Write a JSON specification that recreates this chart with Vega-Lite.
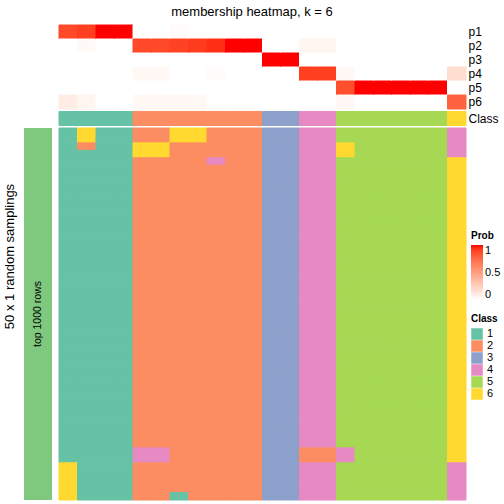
{
  "$schema": "https://vega.github.io/schema/vega-lite/v6.json",
  "background": "white",
  "padding": {"left": 3, "top": 5, "right": 0, "bottom": 0},
  "title": {"text": "membership heatmap, k = 6", "fontSize": 13, "fontWeight": "normal", "font": "Liberation Sans", "color": "black", "anchor": "middle", "offset": 6},
  "datasets": {
    "members": [
      {"c": "c01", "class": 1, "p1": 0.87, "p2": 0, "p3": 0, "p4": 0, "p5": 0, "p6": 0.1},
      {"c": "c02", "class": 1, "p1": 0.9, "p2": 0.03, "p3": 0, "p4": 0, "p5": 0, "p6": 0.05},
      {"c": "c03", "class": 1, "p1": 1, "p2": 0, "p3": 0, "p4": 0, "p5": 0, "p6": 0},
      {"c": "c04", "class": 1, "p1": 1, "p2": 0, "p3": 0, "p4": 0, "p5": 0, "p6": 0},
      {"c": "c05", "class": 2, "p1": 0, "p2": 0.87, "p3": 0, "p4": 0.04, "p5": 0, "p6": 0.04},
      {"c": "c06", "class": 2, "p1": 0, "p2": 0.87, "p3": 0, "p4": 0.04, "p5": 0, "p6": 0.04},
      {"c": "c07", "class": 2, "p1": 0.02, "p2": 0.89, "p3": 0, "p4": 0, "p5": 0, "p6": 0.04},
      {"c": "c08", "class": 2, "p1": 0, "p2": 0.91, "p3": 0, "p4": 0, "p5": 0, "p6": 0.04},
      {"c": "c09", "class": 2, "p1": 0, "p2": 0.94, "p3": 0, "p4": 0.02, "p5": 0, "p6": 0},
      {"c": "c10", "class": 2, "p1": 0, "p2": 1, "p3": 0, "p4": 0, "p5": 0, "p6": 0},
      {"c": "c11", "class": 2, "p1": 0, "p2": 1, "p3": 0, "p4": 0, "p5": 0, "p6": 0},
      {"c": "c12", "class": 3, "p1": 0, "p2": 0, "p3": 1, "p4": 0, "p5": 0, "p6": 0},
      {"c": "c13", "class": 3, "p1": 0, "p2": 0, "p3": 1, "p4": 0, "p5": 0, "p6": 0},
      {"c": "c14", "class": 4, "p1": 0, "p2": 0.05, "p3": 0, "p4": 0.9, "p5": 0, "p6": 0},
      {"c": "c15", "class": 4, "p1": 0, "p2": 0.05, "p3": 0, "p4": 0.9, "p5": 0, "p6": 0},
      {"c": "c16", "class": 5, "p1": 0, "p2": 0, "p3": 0, "p4": 0.04, "p5": 0.85, "p6": 0.04},
      {"c": "c17", "class": 5, "p1": 0, "p2": 0, "p3": 0, "p4": 0, "p5": 1, "p6": 0},
      {"c": "c18", "class": 5, "p1": 0, "p2": 0, "p3": 0, "p4": 0, "p5": 1, "p6": 0},
      {"c": "c19", "class": 5, "p1": 0, "p2": 0, "p3": 0, "p4": 0, "p5": 1, "p6": 0},
      {"c": "c20", "class": 5, "p1": 0, "p2": 0, "p3": 0, "p4": 0, "p5": 1, "p6": 0},
      {"c": "c21", "class": 5, "p1": 0, "p2": 0, "p3": 0, "p4": 0, "p5": 1, "p6": 0},
      {"c": "c22", "class": 6, "p1": 0, "p2": 0, "p3": 0, "p4": 0.18, "p5": 0, "p6": 0.78}
    ],
    "samplings": [
      {"r":1,"c01":1,"c02":6,"c03":1,"c04":1,"c05":2,"c06":2,"c07":6,"c08":6,"c09":2,"c10":2,"c11":2,"c12":3,"c13":3,"c14":4,"c15":4,"c16":5,"c17":5,"c18":5,"c19":5,"c20":5,"c21":5,"c22":4},
      {"r":2,"c01":1,"c02":6,"c03":1,"c04":1,"c05":2,"c06":2,"c07":6,"c08":6,"c09":2,"c10":2,"c11":2,"c12":3,"c13":3,"c14":4,"c15":4,"c16":5,"c17":5,"c18":5,"c19":5,"c20":5,"c21":5,"c22":4},
      {"r":3,"c01":1,"c02":2,"c03":1,"c04":1,"c05":6,"c06":6,"c07":2,"c08":2,"c09":2,"c10":2,"c11":2,"c12":3,"c13":3,"c14":4,"c15":4,"c16":6,"c17":5,"c18":5,"c19":5,"c20":5,"c21":5,"c22":4},
      {"r":4,"c01":1,"c02":1,"c03":1,"c04":1,"c05":6,"c06":6,"c07":2,"c08":2,"c09":2,"c10":2,"c11":2,"c12":3,"c13":3,"c14":4,"c15":4,"c16":6,"c17":5,"c18":5,"c19":5,"c20":5,"c21":5,"c22":4},
      {"r":5,"c01":1,"c02":1,"c03":1,"c04":1,"c05":2,"c06":2,"c07":2,"c08":2,"c09":4,"c10":2,"c11":2,"c12":3,"c13":3,"c14":4,"c15":4,"c16":5,"c17":5,"c18":5,"c19":5,"c20":5,"c21":5,"c22":6},
      {"r":6,"c01":1,"c02":1,"c03":1,"c04":1,"c05":2,"c06":2,"c07":2,"c08":2,"c09":2,"c10":2,"c11":2,"c12":3,"c13":3,"c14":4,"c15":4,"c16":5,"c17":5,"c18":5,"c19":5,"c20":5,"c21":5,"c22":6},
      {"r":7,"c01":1,"c02":1,"c03":1,"c04":1,"c05":2,"c06":2,"c07":2,"c08":2,"c09":2,"c10":2,"c11":2,"c12":3,"c13":3,"c14":4,"c15":4,"c16":5,"c17":5,"c18":5,"c19":5,"c20":5,"c21":5,"c22":6},
      {"r":8,"c01":1,"c02":1,"c03":1,"c04":1,"c05":2,"c06":2,"c07":2,"c08":2,"c09":2,"c10":2,"c11":2,"c12":3,"c13":3,"c14":4,"c15":4,"c16":5,"c17":5,"c18":5,"c19":5,"c20":5,"c21":5,"c22":6},
      {"r":9,"c01":1,"c02":1,"c03":1,"c04":1,"c05":2,"c06":2,"c07":2,"c08":2,"c09":2,"c10":2,"c11":2,"c12":3,"c13":3,"c14":4,"c15":4,"c16":5,"c17":5,"c18":5,"c19":5,"c20":5,"c21":5,"c22":6},
      {"r":10,"c01":1,"c02":1,"c03":1,"c04":1,"c05":2,"c06":2,"c07":2,"c08":2,"c09":2,"c10":2,"c11":2,"c12":3,"c13":3,"c14":4,"c15":4,"c16":5,"c17":5,"c18":5,"c19":5,"c20":5,"c21":5,"c22":6},
      {"r":11,"c01":1,"c02":1,"c03":1,"c04":1,"c05":2,"c06":2,"c07":2,"c08":2,"c09":2,"c10":2,"c11":2,"c12":3,"c13":3,"c14":4,"c15":4,"c16":5,"c17":5,"c18":5,"c19":5,"c20":5,"c21":5,"c22":6},
      {"r":12,"c01":1,"c02":1,"c03":1,"c04":1,"c05":2,"c06":2,"c07":2,"c08":2,"c09":2,"c10":2,"c11":2,"c12":3,"c13":3,"c14":4,"c15":4,"c16":5,"c17":5,"c18":5,"c19":5,"c20":5,"c21":5,"c22":6},
      {"r":13,"c01":1,"c02":1,"c03":1,"c04":1,"c05":2,"c06":2,"c07":2,"c08":2,"c09":2,"c10":2,"c11":2,"c12":3,"c13":3,"c14":4,"c15":4,"c16":5,"c17":5,"c18":5,"c19":5,"c20":5,"c21":5,"c22":6},
      {"r":14,"c01":1,"c02":1,"c03":1,"c04":1,"c05":2,"c06":2,"c07":2,"c08":2,"c09":2,"c10":2,"c11":2,"c12":3,"c13":3,"c14":4,"c15":4,"c16":5,"c17":5,"c18":5,"c19":5,"c20":5,"c21":5,"c22":6},
      {"r":15,"c01":1,"c02":1,"c03":1,"c04":1,"c05":2,"c06":2,"c07":2,"c08":2,"c09":2,"c10":2,"c11":2,"c12":3,"c13":3,"c14":4,"c15":4,"c16":5,"c17":5,"c18":5,"c19":5,"c20":5,"c21":5,"c22":6},
      {"r":16,"c01":1,"c02":1,"c03":1,"c04":1,"c05":2,"c06":2,"c07":2,"c08":2,"c09":2,"c10":2,"c11":2,"c12":3,"c13":3,"c14":4,"c15":4,"c16":5,"c17":5,"c18":5,"c19":5,"c20":5,"c21":5,"c22":6},
      {"r":17,"c01":1,"c02":1,"c03":1,"c04":1,"c05":2,"c06":2,"c07":2,"c08":2,"c09":2,"c10":2,"c11":2,"c12":3,"c13":3,"c14":4,"c15":4,"c16":5,"c17":5,"c18":5,"c19":5,"c20":5,"c21":5,"c22":6},
      {"r":18,"c01":1,"c02":1,"c03":1,"c04":1,"c05":2,"c06":2,"c07":2,"c08":2,"c09":2,"c10":2,"c11":2,"c12":3,"c13":3,"c14":4,"c15":4,"c16":5,"c17":5,"c18":5,"c19":5,"c20":5,"c21":5,"c22":6},
      {"r":19,"c01":1,"c02":1,"c03":1,"c04":1,"c05":2,"c06":2,"c07":2,"c08":2,"c09":2,"c10":2,"c11":2,"c12":3,"c13":3,"c14":4,"c15":4,"c16":5,"c17":5,"c18":5,"c19":5,"c20":5,"c21":5,"c22":6},
      {"r":20,"c01":1,"c02":1,"c03":1,"c04":1,"c05":2,"c06":2,"c07":2,"c08":2,"c09":2,"c10":2,"c11":2,"c12":3,"c13":3,"c14":4,"c15":4,"c16":5,"c17":5,"c18":5,"c19":5,"c20":5,"c21":5,"c22":6},
      {"r":21,"c01":1,"c02":1,"c03":1,"c04":1,"c05":2,"c06":2,"c07":2,"c08":2,"c09":2,"c10":2,"c11":2,"c12":3,"c13":3,"c14":4,"c15":4,"c16":5,"c17":5,"c18":5,"c19":5,"c20":5,"c21":5,"c22":6},
      {"r":22,"c01":1,"c02":1,"c03":1,"c04":1,"c05":2,"c06":2,"c07":2,"c08":2,"c09":2,"c10":2,"c11":2,"c12":3,"c13":3,"c14":4,"c15":4,"c16":5,"c17":5,"c18":5,"c19":5,"c20":5,"c21":5,"c22":6},
      {"r":23,"c01":1,"c02":1,"c03":1,"c04":1,"c05":2,"c06":2,"c07":2,"c08":2,"c09":2,"c10":2,"c11":2,"c12":3,"c13":3,"c14":4,"c15":4,"c16":5,"c17":5,"c18":5,"c19":5,"c20":5,"c21":5,"c22":6},
      {"r":24,"c01":1,"c02":1,"c03":1,"c04":1,"c05":2,"c06":2,"c07":2,"c08":2,"c09":2,"c10":2,"c11":2,"c12":3,"c13":3,"c14":4,"c15":4,"c16":5,"c17":5,"c18":5,"c19":5,"c20":5,"c21":5,"c22":6},
      {"r":25,"c01":1,"c02":1,"c03":1,"c04":1,"c05":2,"c06":2,"c07":2,"c08":2,"c09":2,"c10":2,"c11":2,"c12":3,"c13":3,"c14":4,"c15":4,"c16":5,"c17":5,"c18":5,"c19":5,"c20":5,"c21":5,"c22":6},
      {"r":26,"c01":1,"c02":1,"c03":1,"c04":1,"c05":2,"c06":2,"c07":2,"c08":2,"c09":2,"c10":2,"c11":2,"c12":3,"c13":3,"c14":4,"c15":4,"c16":5,"c17":5,"c18":5,"c19":5,"c20":5,"c21":5,"c22":6},
      {"r":27,"c01":1,"c02":1,"c03":1,"c04":1,"c05":2,"c06":2,"c07":2,"c08":2,"c09":2,"c10":2,"c11":2,"c12":3,"c13":3,"c14":4,"c15":4,"c16":5,"c17":5,"c18":5,"c19":5,"c20":5,"c21":5,"c22":6},
      {"r":28,"c01":1,"c02":1,"c03":1,"c04":1,"c05":2,"c06":2,"c07":2,"c08":2,"c09":2,"c10":2,"c11":2,"c12":3,"c13":3,"c14":4,"c15":4,"c16":5,"c17":5,"c18":5,"c19":5,"c20":5,"c21":5,"c22":6},
      {"r":29,"c01":1,"c02":1,"c03":1,"c04":1,"c05":2,"c06":2,"c07":2,"c08":2,"c09":2,"c10":2,"c11":2,"c12":3,"c13":3,"c14":4,"c15":4,"c16":5,"c17":5,"c18":5,"c19":5,"c20":5,"c21":5,"c22":6},
      {"r":30,"c01":1,"c02":1,"c03":1,"c04":1,"c05":2,"c06":2,"c07":2,"c08":2,"c09":2,"c10":2,"c11":2,"c12":3,"c13":3,"c14":4,"c15":4,"c16":5,"c17":5,"c18":5,"c19":5,"c20":5,"c21":5,"c22":6},
      {"r":31,"c01":1,"c02":1,"c03":1,"c04":1,"c05":2,"c06":2,"c07":2,"c08":2,"c09":2,"c10":2,"c11":2,"c12":3,"c13":3,"c14":4,"c15":4,"c16":5,"c17":5,"c18":5,"c19":5,"c20":5,"c21":5,"c22":6},
      {"r":32,"c01":1,"c02":1,"c03":1,"c04":1,"c05":2,"c06":2,"c07":2,"c08":2,"c09":2,"c10":2,"c11":2,"c12":3,"c13":3,"c14":4,"c15":4,"c16":5,"c17":5,"c18":5,"c19":5,"c20":5,"c21":5,"c22":6},
      {"r":33,"c01":1,"c02":1,"c03":1,"c04":1,"c05":2,"c06":2,"c07":2,"c08":2,"c09":2,"c10":2,"c11":2,"c12":3,"c13":3,"c14":4,"c15":4,"c16":5,"c17":5,"c18":5,"c19":5,"c20":5,"c21":5,"c22":6},
      {"r":34,"c01":1,"c02":1,"c03":1,"c04":1,"c05":2,"c06":2,"c07":2,"c08":2,"c09":2,"c10":2,"c11":2,"c12":3,"c13":3,"c14":4,"c15":4,"c16":5,"c17":5,"c18":5,"c19":5,"c20":5,"c21":5,"c22":6},
      {"r":35,"c01":1,"c02":1,"c03":1,"c04":1,"c05":2,"c06":2,"c07":2,"c08":2,"c09":2,"c10":2,"c11":2,"c12":3,"c13":3,"c14":4,"c15":4,"c16":5,"c17":5,"c18":5,"c19":5,"c20":5,"c21":5,"c22":6},
      {"r":36,"c01":1,"c02":1,"c03":1,"c04":1,"c05":2,"c06":2,"c07":2,"c08":2,"c09":2,"c10":2,"c11":2,"c12":3,"c13":3,"c14":4,"c15":4,"c16":5,"c17":5,"c18":5,"c19":5,"c20":5,"c21":5,"c22":6},
      {"r":37,"c01":1,"c02":1,"c03":1,"c04":1,"c05":2,"c06":2,"c07":2,"c08":2,"c09":2,"c10":2,"c11":2,"c12":3,"c13":3,"c14":4,"c15":4,"c16":5,"c17":5,"c18":5,"c19":5,"c20":5,"c21":5,"c22":6},
      {"r":38,"c01":1,"c02":1,"c03":1,"c04":1,"c05":2,"c06":2,"c07":2,"c08":2,"c09":2,"c10":2,"c11":2,"c12":3,"c13":3,"c14":4,"c15":4,"c16":5,"c17":5,"c18":5,"c19":5,"c20":5,"c21":5,"c22":6},
      {"r":39,"c01":1,"c02":1,"c03":1,"c04":1,"c05":2,"c06":2,"c07":2,"c08":2,"c09":2,"c10":2,"c11":2,"c12":3,"c13":3,"c14":4,"c15":4,"c16":5,"c17":5,"c18":5,"c19":5,"c20":5,"c21":5,"c22":6},
      {"r":40,"c01":1,"c02":1,"c03":1,"c04":1,"c05":2,"c06":2,"c07":2,"c08":2,"c09":2,"c10":2,"c11":2,"c12":3,"c13":3,"c14":4,"c15":4,"c16":5,"c17":5,"c18":5,"c19":5,"c20":5,"c21":5,"c22":6},
      {"r":41,"c01":1,"c02":1,"c03":1,"c04":1,"c05":2,"c06":2,"c07":2,"c08":2,"c09":2,"c10":2,"c11":2,"c12":3,"c13":3,"c14":4,"c15":4,"c16":5,"c17":5,"c18":5,"c19":5,"c20":5,"c21":5,"c22":6},
      {"r":42,"c01":1,"c02":1,"c03":1,"c04":1,"c05":2,"c06":2,"c07":2,"c08":2,"c09":2,"c10":2,"c11":2,"c12":3,"c13":3,"c14":4,"c15":4,"c16":5,"c17":5,"c18":5,"c19":5,"c20":5,"c21":5,"c22":6},
      {"r":43,"c01":1,"c02":1,"c03":1,"c04":1,"c05":2,"c06":2,"c07":2,"c08":2,"c09":2,"c10":2,"c11":2,"c12":3,"c13":3,"c14":4,"c15":4,"c16":5,"c17":5,"c18":5,"c19":5,"c20":5,"c21":5,"c22":6},
      {"r":44,"c01":1,"c02":1,"c03":1,"c04":1,"c05":4,"c06":4,"c07":2,"c08":2,"c09":2,"c10":2,"c11":2,"c12":3,"c13":3,"c14":2,"c15":2,"c16":4,"c17":5,"c18":5,"c19":5,"c20":5,"c21":5,"c22":6},
      {"r":45,"c01":1,"c02":1,"c03":1,"c04":1,"c05":4,"c06":4,"c07":2,"c08":2,"c09":2,"c10":2,"c11":2,"c12":3,"c13":3,"c14":2,"c15":2,"c16":4,"c17":5,"c18":5,"c19":5,"c20":5,"c21":5,"c22":6},
      {"r":46,"c01":6,"c02":1,"c03":1,"c04":1,"c05":2,"c06":2,"c07":2,"c08":2,"c09":2,"c10":2,"c11":2,"c12":3,"c13":3,"c14":4,"c15":4,"c16":5,"c17":5,"c18":5,"c19":5,"c20":5,"c21":5,"c22":4},
      {"r":47,"c01":6,"c02":1,"c03":1,"c04":1,"c05":2,"c06":2,"c07":2,"c08":2,"c09":2,"c10":2,"c11":2,"c12":3,"c13":3,"c14":4,"c15":4,"c16":5,"c17":5,"c18":5,"c19":5,"c20":5,"c21":5,"c22":4},
      {"r":48,"c01":6,"c02":1,"c03":1,"c04":1,"c05":2,"c06":2,"c07":2,"c08":2,"c09":2,"c10":2,"c11":2,"c12":3,"c13":3,"c14":4,"c15":4,"c16":5,"c17":5,"c18":5,"c19":5,"c20":5,"c21":5,"c22":4},
      {"r":49,"c01":6,"c02":1,"c03":1,"c04":1,"c05":2,"c06":2,"c07":2,"c08":2,"c09":2,"c10":2,"c11":2,"c12":3,"c13":3,"c14":4,"c15":4,"c16":5,"c17":5,"c18":5,"c19":5,"c20":5,"c21":5,"c22":4},
      {"r":50,"c01":6,"c02":1,"c03":1,"c04":1,"c05":2,"c06":2,"c07":1,"c08":2,"c09":2,"c10":2,"c11":2,"c12":3,"c13":3,"c14":4,"c15":4,"c16":5,"c17":5,"c18":5,"c19":5,"c20":5,"c21":5,"c22":4}
    ]
  },
  "spacing": 6,
  "resolve": {"scale": {"stroke": "independent"}},
  "hconcat": [
    {
      "spacing": 3,
      "bounds": "flush",
      "vconcat": [
        {"width": 28, "height": 100, "data": {"values": [{}]}, "mark": {"type": "rect", "opacity": 0}},
        {
          "width": 28,
          "height": 372,
          "data": {"values": [{"label": "top 1000 rows"}]},
          "encoding": {
            "x": {"field": "label", "type": "nominal", "axis": null, "scale": {"paddingInner": 0, "paddingOuter": 0}},
            "y": {"field": "label", "type": "nominal", "scale": {"paddingInner": 0, "paddingOuter": 0},
                  "axis": {"labels": false, "ticks": false, "domain": false, "title": "50 x 1 random samplings", "titleFontSize": 13, "titleFontWeight": "normal", "titleColor": "black", "titlePadding": 8, "titleY": 128}}
          },
          "layer": [
            {"mark": {"type": "rect", "color": "#7FC97F"}},
            {"mark": {"type": "text", "angle": 270, "fontSize": 10.5, "color": "black"}, "encoding": {"text": {"field": "label"}}}
          ]
        }
      ]
    },
    {
      "spacing": 2.5,
      "bounds": "flush",
      "resolve": {"scale": {"stroke": "independent"}},
      "vconcat": [
        {
          "width": 407,
          "height": 84,
          "data": {"name": "members"},
          "transform": [{"fold": ["p1", "p2", "p3", "p4", "p5", "p6"], "as": ["cluster", "prob"]}],
          "mark": {"type": "rect", "strokeWidth": 1},
          "encoding": {
            "x": {"field": "c", "type": "nominal", "axis": null, "scale": {"paddingInner": 0, "paddingOuter": 0}},
            "y": {"field": "cluster", "type": "nominal", "scale": {"paddingInner": 0, "paddingOuter": 0},
                  "axis": {"orient": "right", "title": null, "ticks": false, "domain": false, "labelFontSize": 12, "labelPadding": 2, "labelColor": "black"}},
            "fill": {"field": "prob", "type": "quantitative",
                     "scale": {"domain": [0, 1], "range": ["#ffffff", "#ff0000"], "interpolate": "lab"},
                     "legend": {"title": "Prob", "orient": "none", "legendX": 447, "legendY": 206, "direction": "vertical", "gradientLength": 55, "gradientThickness": 12, "values": [0, 0.5, 1], "format": "~g", "titleFontSize": 10, "titleFontWeight": "bold", "titleColor": "black", "labelFontSize": 11, "labelColor": "black", "gradientStrokeWidth": 0, "titlePadding": 4}},
            "stroke": {"field": "prob", "type": "quantitative", "legend": null,
                       "scale": {"domain": [0, 1], "range": ["#ffffff", "#ff0000"], "interpolate": "lab"}}
          }
        },
        {
          "width": 407,
          "height": 14,
          "data": {"name": "members"},
          "mark": {"type": "rect", "strokeWidth": 1},
          "encoding": {
            "x": {"field": "c", "type": "nominal", "axis": null, "scale": {"paddingInner": 0, "paddingOuter": 0}},
            "y": {"datum": "Class", "type": "nominal", "scale": {"paddingInner": 0, "paddingOuter": 0},
                  "axis": {"orient": "right", "title": null, "ticks": false, "domain": false, "labelFontSize": 12, "labelPadding": 2, "labelColor": "black"}},
            "color": {"field": "class", "type": "nominal",
                      "scale": {"domain": [1, 2, 3, 4, 5, 6], "range": ["#66C2A5", "#FC8D62", "#8DA0CB", "#E78AC3", "#A6D854", "#FFD92F"]},
                      "legend": {"title": "Class", "orient": "none", "legendX": 447, "legendY": 289, "symbolType": "square", "symbolSize": 132, "symbolStrokeWidth": 0, "titleFontSize": 10, "titleFontWeight": "bold", "titleColor": "black", "labelFontSize": 11, "labelColor": "black", "rowPadding": 0, "titlePadding": 4}},
            "stroke": {"field": "class", "type": "nominal", "legend": null,
                       "scale": {"domain": [1, 2, 3, 4, 5, 6], "range": ["#66C2A5", "#FC8D62", "#8DA0CB", "#E78AC3", "#A6D854", "#FFD92F"]}}
          }
        },
        {
          "width": 407,
          "height": 372,
          "data": {"name": "samplings"},
          "transform": [{"fold": ["c01", "c02", "c03", "c04", "c05", "c06", "c07", "c08", "c09", "c10", "c11", "c12", "c13", "c14", "c15", "c16", "c17", "c18", "c19", "c20", "c21", "c22"], "as": ["col", "cls"]}],
          "mark": {"type": "rect", "strokeWidth": 1},
          "encoding": {
            "x": {"field": "col", "type": "nominal", "axis": null, "scale": {"paddingInner": 0, "paddingOuter": 0}},
            "y": {"field": "r", "type": "ordinal", "axis": null, "scale": {"paddingInner": 0, "paddingOuter": 0}},
            "color": {"field": "cls", "type": "nominal",
                      "scale": {"domain": [1, 2, 3, 4, 5, 6], "range": ["#66C2A5", "#FC8D62", "#8DA0CB", "#E78AC3", "#A6D854", "#FFD92F"]},
                      "legend": {"title": "Class", "orient": "none", "legendX": 447, "legendY": 289, "symbolType": "square", "symbolSize": 132, "symbolStrokeWidth": 0, "titleFontSize": 10, "titleFontWeight": "bold", "titleColor": "black", "labelFontSize": 11, "labelColor": "black", "rowPadding": 0, "titlePadding": 4}},
            "stroke": {"field": "cls", "type": "nominal", "legend": null,
                       "scale": {"domain": [1, 2, 3, 4, 5, 6], "range": ["#66C2A5", "#FC8D62", "#8DA0CB", "#E78AC3", "#A6D854", "#FFD92F"]}}
          }
        }
      ]
    }
  ],
  "config": {
    "font": "Liberation Sans",
    "view": {"stroke": null}
  }
}
